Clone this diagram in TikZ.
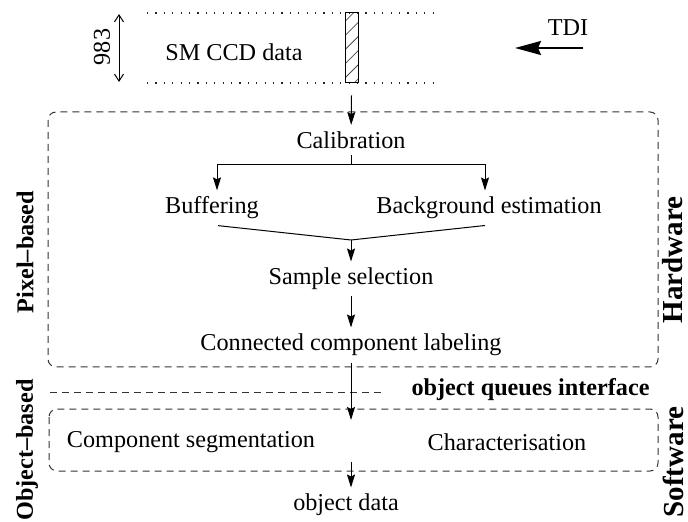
\documentclass[tikz,border=0pt]{standalone}
\usepackage{fontspec}
\setmainfont{Liberation Serif}
\usetikzlibrary{arrows.meta,patterns.meta}
\begin{document}
\begin{tikzpicture}[x=0.5pt,y=-0.5pt,line width=0.5pt,
	every node/.style={font=\fontsize{12.1}{14}\selectfont,inner sep=3pt},
	arr/.style={-{Stealth[length=6.5pt,width=4pt,inset=1pt]}},
	grp/.style={draw=black!80,dash pattern=on 3.5pt off 2.5pt,rounded corners=4pt},
	dots/.style={black!85,line width=0.6pt,dash pattern=on 0.6pt off 3.6pt},
	side/.style={font=\fontsize{12.1}{14}\selectfont\bfseries,rotate=90,inner sep=0pt},
	bigside/.style={side,font=\fontsize{14.5}{17}\selectfont\bfseries}]
	\useasboundingbox(0,0)rectangle(688,522);
	
	% CCD strip
	\foreach \y in{13,83}
	\draw[dots](147,\y)--(437,\y);
	\node[draw,inner sep=0,minimum width=6.5pt,minimum height=35pt,
	pattern={Lines[angle=45,distance=5pt,line width=0.4pt]},pattern color=black!70](strip)at(351.5,48){};
	\node(ccd)at(234,52){SM CCD data};
	\node[rotate=90](num)at(102,47){983};
	\coordinate(h1)at(119,14);
	\coordinate(h2)at(119,82);
	\draw[{Straight Barb[length=3.5pt,width=4.5pt]}-{Straight Barb[length=3.5pt,width=4.5pt]}](h1)--(h2);
	\node(tdi)at(568,28){TDI};
	\coordinate(t1)at(583,48);
	\coordinate(t2)at(515,48);
	\draw[line width=0.8pt,-{Stealth[length=13pt,width=7pt,inset=1.5pt]}](t1)--(t2);
	
	% groups
	\draw[grp](48,112)rectangle(658,367);
	\draw[grp](49,409)rectangle(658,471);
	\draw[grp,rounded corners=0](50,392)--(382,392);
	\node[side](pix)at(25,252){Pixel--based};
	\node[side](obj)at(27,450){Object--based};
	\node[bigside](hw)at(673,260){Hardware};
	\node[bigside](sw)at(673,462){Software};
	\node[font=\fontsize{12.1}{14}\selectfont\bfseries,anchor=east](oqi)at(656,390){object queues interface};
	
	% steps
	\node(cal)at(351,140){Calibration};
	\node(buf)at(212,208){Buffering};
	\node(bge)at(489,208){Background estimation};
	\node(sel)at(351,279){Sample selection};
	\node(ccl)at(351,345){Connected component labeling};
	\node(seg)at(191,442){Component segmentation};
	\node(chr)at(507,442){Characterisation};
	\node(odat)at(346,505){object data};
	
	\draw[arr]([yshift=-6pt]strip.south)--(cal);
	\draw(cal.south)--++(0,9)coordinate(fork);
	\draw[arr](fork)-|([xshift=2.5pt]buf.north);
	\draw[arr](fork)-|([xshift=-2pt]bge.north);
	\coordinate(mrg)at(351,240);
	\draw([xshift=3pt]buf.south)--(mrg)--([xshift=-2pt]bge.south);
	\draw[arr](mrg)--(sel);
	\draw[arr](sel)--(ccl);
	\coordinate(in)at(351,420);
	\draw[arr](ccl)--(in);
	\coordinate(out)at(351,462);
	\draw[arr](out)--(out|-odat.north);
\end{tikzpicture}
\end{document}
